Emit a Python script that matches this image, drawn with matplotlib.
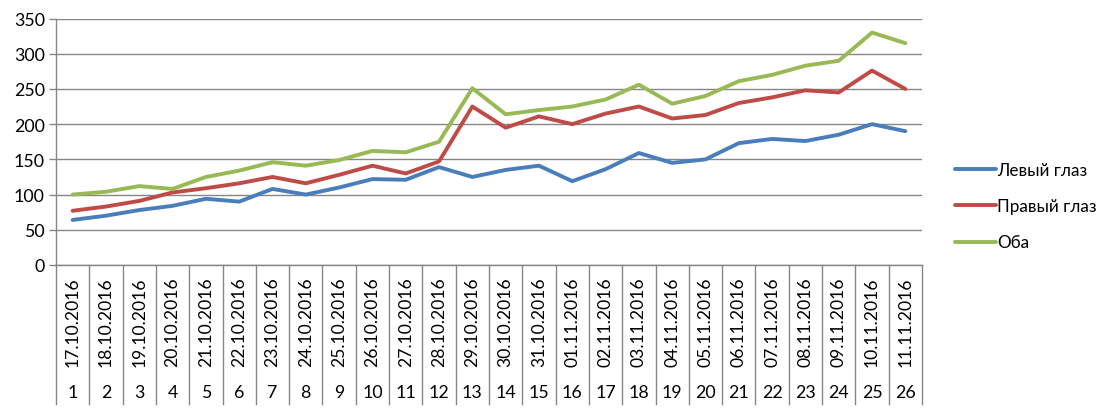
import matplotlib
matplotlib.use("Agg")
import matplotlib.pyplot as plt
import matplotlib.transforms as mtransforms
from matplotlib.lines import Line2D

plt.rcParams['font.family'] = ['Lato', 'DejaVu Sans']

dates = ["17.10.2016", "18.10.2016", "19.10.2016", "20.10.2016", "21.10.2016",
         "22.10.2016", "23.10.2016", "24.10.2016", "25.10.2016", "26.10.2016",
         "27.10.2016", "28.10.2016", "29.10.2016", "30.10.2016", "31.10.2016",
         "01.11.2016", "02.11.2016", "03.11.2016", "04.11.2016", "05.11.2016",
         "06.11.2016", "07.11.2016", "08.11.2016", "09.11.2016", "10.11.2016",
         "11.11.2016"]
day_numbers = [str(i) for i in range(1, 27)]

left_eye = [64, 70, 78, 84, 94, 90, 108, 100, 110, 122, 121, 139, 125, 135, 141,
            119, 136, 159, 145, 150, 173, 179, 176, 185, 200, 190]
right_eye = [77, 83, 91, 103, 109, 116, 125, 116, 128, 141, 130, 147, 225, 195, 211,
             200, 215, 225, 208, 213, 230, 238, 248, 245, 276, 250]
both = [100, 104, 112, 108, 125, 134, 146, 141, 149, 162, 160, 175, 251, 214, 220,
        225, 235, 256, 229, 240, 261, 270, 283, 290, 330, 315]

series_names = ["Левый глаз", "Правый глаз", "Оба"]
colors = ["#4A7EBB", "#BE4B48", "#98B954"]

W, H = 1114, 414
fig = plt.figure(figsize=(W / 100, H / 100), dpi=100)
ax_left, ax_right, ax_top, ax_bot = 56, 922, 19.5, 266
ax = fig.add_axes([ax_left / W, 1 - ax_bot / H, (ax_right - ax_left) / W, (ax_bot - ax_top) / H])

grid_c = "#868686"
x = list(range(len(dates)))
for vals, c, name in zip([left_eye, right_eye, both], colors, series_names):
    ax.plot(x, vals, color=c, lw=2.8, solid_capstyle='round', solid_joinstyle='round', label=name, zorder=3)

ax.set_xlim(-0.5, len(dates) - 0.5)
ax.set_ylim(0, 350)
ax.set_yticks(range(0, 351, 50))
ax.yaxis.grid(True, color=grid_c, lw=1.0)
ax.set_axisbelow(True)
for s in ["top", "right"]:
    ax.spines[s].set_visible(False)
for s in ["left", "bottom"]:
    ax.spines[s].set_color(grid_c)
    ax.spines[s].set_linewidth(1.0)
ax.tick_params(axis='y', length=5, color=grid_c, width=1.0, labelsize=12.8, pad=3, labelcolor="#000000")
ax.set_xticks([])

ah = ax_bot - ax_top
trans = mtransforms.blended_transform_factory(ax.transData, ax.transAxes)
sep_bottom = -(405 - ax_bot) / ah
for i in range(len(dates) + 1):
    ax.plot([i - 0.5, i - 0.5], [0, sep_bottom], color=grid_c, lw=1.0, transform=trans, clip_on=False)

date_y = -(322 - ax_bot) / ah
num_y = -(393 - ax_bot) / ah
for i, (d, n) in enumerate(zip(dates, day_numbers)):
    ax.text(i, date_y, d, rotation=90, ha='center', va='center', fontsize=12.6, transform=trans)
    ax.text(i, num_y, n, ha='center', va='center', fontsize=12.8, transform=trans)

handles = [Line2D([], [], color=c, lw=2.8, solid_capstyle='round') for c in colors]
fig.legend(handles, series_names, loc='center left', bbox_to_anchor=(940 / W, 1 - 207 / H),
           frameon=False, fontsize=12.3, handlelength=2.35, handletextpad=0.1, labelspacing=1.2)

fig.savefig("out.png", dpi=100)
